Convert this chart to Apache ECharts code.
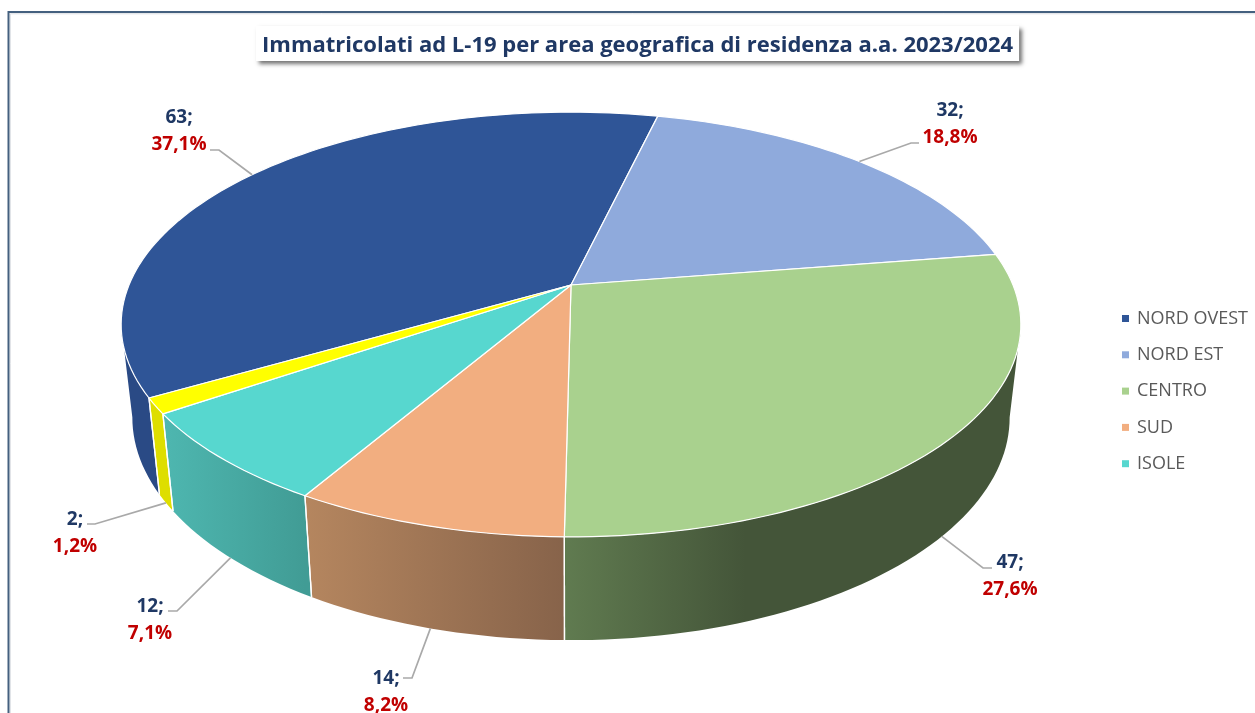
<!DOCTYPE html>
<html>
<head>
<meta charset="utf-8">
<style>html,body{margin:0;padding:0;background:#fff}#c{width:1255px;height:713px}</style>
<script src="https://cdn.jsdelivr.net/npm/echarts@6/dist/echarts.min.js"></script>
</head>
<body>
<div id="c"></div>
<script>
// ---- data ----
const chartTitle = 'Immatricolati ad L-19 per area geografica di residenza a.a. 2023/2024';
const categories = ['NORD OVEST', 'NORD EST', 'CENTRO', 'SUD', 'ISOLE', 'ALTRO'];
const legendCategories = ['NORD OVEST', 'NORD EST', 'CENTRO', 'SUD', 'ISOLE'];
const values = [63, 32, 47, 14, 12, 2];
const valueLabels = ['63;', '32;', '47;', '14;', '12;', '2;'];
const percentLabels = ['37,1%', '18,8%', '27,6%', '8,2%', '7,1%', '1,2%'];

// ---- styles ----
const topColors = ['#2F5597', '#8FAADC', '#A9D18E', '#F2AE80', '#57D7CF', '#FFFF00'];
const sideColors = [
  [[120, '#2A4A85'], [170, '#2A4A85']],
  [[600, '#6F86B0'], [1000, '#6F86B0']],
  [[565, '#607B50'], [745, '#445539'], [1025, '#445539']],
  [[305, '#B5865F'], [565, '#87634A']],
  [[163, '#4EB7B0'], [305, '#419C95']],
  [[150, '#DEDE00'], [173, '#DEDE00']]
];

// ---- layout of the tilted disc (perspective projection) ----
const startAngle = -120;             // degrees clockwise from the far point
const persp = 0.186;
const topDisc = { cx: 571, cy: 285, a: 442, b: 205 };
const bottomDisc = { cx: 571, cy: 376, a: 431, b: 215 };
const wallFrom = 100.7, wallTo = 259.3; // silhouette of the disc: the wall is visible between these
// label centre, elbow, line start beside the label
const labelLayout = [
  { x: 179, y: 131, elbow: [219, 150], tail: [210, 150], rim: 'top' },
  { x: 950, y: 124, elbow: [911, 143], tail: [919, 143], rim: 'top' },
  { x: 1010, y: 576, elbow: [983, 568], tail: [992, 568], rim: 'bottom' },
  { x: 386, y: 692, elbow: [412, 678], tail: [403, 678], rim: 'bottom' },
  { x: 150, y: 620, elbow: [177, 611], tail: [168, 611], rim: 'bottom' },
  { x: 75,  y: 533, elbow: [95, 524],  tail: [87, 524],  rim: 'bottom' }
];

const total = values.reduce((s, v) => s + v, 0);
const bounds = values.reduce((acc, v) => {
  acc.push(acc[acc.length - 1] + v / total * 360);
  return acc;
}, [startAngle]);

function project(disc, deg) {
  const t = deg * Math.PI / 180, X = Math.sin(t), Y = Math.cos(t);
  const w = 1 / (1 + persp * Y);
  return [disc.cx + disc.a * X * w, disc.cy - disc.b * Y * w];
}
function arc(disc, from, to) {
  const n = Math.max(2, Math.ceil(Math.abs(to - from) / 1.5));
  const pts = [];
  for (let i = 0; i <= n; i++) pts.push(project(disc, from + (to - from) * i / n));
  return pts;
}
function sideFill(stops) {
  const x0 = stops[0][0], x1 = stops[stops.length - 1][0];
  return {
    type: 'linear', global: true, x: x0, y: 0, x2: x1, y2: 0,
    colorStops: stops.map(s => ({ offset: (s[0] - x0) / (x1 - x0), color: s[1] }))
  };
}

function renderSlice(params, api) {
  const i = params.seriesIndex;
  const from = api.value(1), to = api.value(2);
  const mid = (from + to) / 2;
  const topArc = arc(topDisc, from, to);
  const children = [];
  // outer wall: the part of the slice's rim that faces the viewer
  const segments = [[from, to], [from + 360, to + 360]];
  segments.forEach(seg => {
    const a = Math.max(seg[0], wallFrom), b = Math.min(seg[1], wallTo);
    if (b > a) {
      children.push({
        type: 'polygon', z2: 1, silent: true,
        shape: { points: arc(topDisc, a, b).concat(arc(bottomDisc, a, b).reverse()) },
        style: { fill: sideFill(sideColors[i]) }
      });
    }
  });
  // seams between walls on the visible front
  [from, to].forEach(d => {
    const norm = ((d % 360) + 360) % 360;
    if (norm > wallFrom && norm < wallTo) {
      const p = project(topDisc, d), q = project(bottomDisc, d);
      children.push({
        type: 'line', z2: 2, silent: true,
        shape: { x1: p[0], y1: p[1], x2: q[0], y2: q[1] },
        style: { stroke: '#FFFFFF', lineWidth: 1.3 }
      });
    }
  });
  // top face
  children.push({
    type: 'polygon', z2: 3, silent: true,
    shape: { points: [[topDisc.cx, topDisc.cy]].concat(topArc) },
    style: { fill: topColors[i], stroke: '#FFFFFF', lineWidth: 1.2, lineJoin: 'round' }
  });
  // leader line
  const lay = labelLayout[i];
  const anchor = project(lay.rim === 'top' ? topDisc : bottomDisc, mid);
  children.push({
    type: 'polyline', z2: 4, silent: true,
    shape: { points: [anchor, lay.elbow, lay.tail] },
    style: { stroke: '#A9A9A9', lineWidth: 1.7, fill: null }
  });
  // data label
  children.push({
    type: 'text', z2: 5, silent: true, x: lay.x, y: lay.y,
    style: {
      text: '{v|' + valueLabels[i] + '}\n{p|' + percentLabels[i] + '}',
      align: 'center', verticalAlign: 'middle',
      rich: {
        v: { fontFamily: 'Open Sans', fontWeight: 'bold', fontSize: 19, lineHeight: 27, fill: '#1F3864', align: 'center' },
        p: { fontFamily: 'Open Sans', fontWeight: 'bold', fontSize: 19, lineHeight: 27, fill: '#C00000', align: 'center' }
      }
    }
  });
  return { type: 'group', children };
}

const chart = echarts.init(document.getElementById('c'), null, { renderer: 'canvas' });
chart.setOption({
  animation: false,
  backgroundColor: '#FFFFFF',
  title: {
    text: chartTitle,
    left: 256, top: 26,
    padding: [8, 6, 4, 6],
    backgroundColor: '#FFFFFF',
    shadowColor: 'rgba(0,0,0,0.55)', shadowBlur: 4, shadowOffsetX: 3, shadowOffsetY: 3,
    textStyle: { fontFamily: 'Open Sans', fontWeight: 'bold', fontSize: 22, color: '#1F3864', lineHeight: 23 }
  },
  legend: {
    data: legendCategories,
    orient: 'vertical',
    left: 1122, top: 309.5,
    padding: 0,
    icon: 'rect', itemWidth: 7, itemHeight: 7, itemGap: 18.3,
    textStyle: { fontFamily: 'Open Sans', fontSize: 18, lineHeight: 18, color: '#595959', padding: [0, 0, 0, 3] },
    selectedMode: false
  },
  graphic: [
    {
      type: 'polyline', silent: true, z: 0,
      shape: { points: [[10.3, 713], [10.3, 13.8], [1255, 13.8]] },
      style: { stroke: '#DADDE2', lineWidth: 1, fill: null }
    },
    {
      type: 'polyline', silent: true, z: 0,
      shape: { points: [[8.5, 713], [8.5, 12], [1255, 12]] },
      style: { stroke: '#44607F', lineWidth: 2, fill: null }
    }
  ],
  series: categories.map((name, i) => ({
    type: 'custom',
    name,
    coordinateSystem: 'none',
    itemStyle: { color: topColors[i] },
    renderItem: renderSlice,
    data: [[values[i], bounds[i], bounds[i + 1]]]
  }))
});
</script>
</body>
</html>
